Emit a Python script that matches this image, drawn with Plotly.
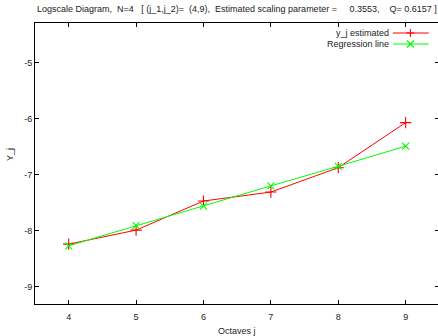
import plotly.graph_objects as go

octaves = [4, 5, 6, 7, 8, 9]
y_est = [-8.24, -7.99, -7.47, -7.31, -6.875, -6.07]
y_reg = [-8.27, -7.91, -7.56, -7.20, -6.85, -6.49]
x_ticks = [4, 5, 6, 7, 8, 9]
y_ticks = [-9, -8, -7, -6, -5]
y_tick_labels = ["-9", "-8", "-7", "-6", "-5"]

NB = "\u00a0"
title = ("Logscale Diagram," + NB*2 + "N=4" + NB*3 + "[ (j_1,j_2)=" + NB*2 + "(4,9)," + NB*2
         + "Estimated scaling parameter =" + NB*5 + "0.3553," + NB*4 + "Q= 0.6157 ]")

RED = "#ff0000"
GREEN = "#00ff00"
FONT = "Liberation Sans, Arial, sans-serif"

fig = go.Figure()
fig.add_trace(go.Scatter(x=octaves, y=y_est, mode="lines+markers", name="y_j estimated",
                         line=dict(color=RED, width=1),
                         marker=dict(symbol="cross-thin", size=8, line=dict(color=RED, width=1.1))))
fig.add_trace(go.Scatter(x=octaves, y=y_reg, mode="lines+markers", name="Regression line",
                         line=dict(color=GREEN, width=1),
                         marker=dict(symbol="x-thin", size=7, line=dict(color=GREEN, width=1.1))))
# invisible trace to host right-side mirrored ticks
fig.add_trace(go.Scatter(x=[octaves[0]], y=[y_est[0]], yaxis="y2", mode="markers",
                         marker=dict(opacity=0), hoverinfo="skip", showlegend=False))

W, H = 438, 336
L, R, T, B = 35, 0, 23, 32

fig.update_layout(
    width=W, height=H,
    margin=dict(l=L, r=R, t=T, b=B),
    paper_bgcolor="white", plot_bgcolor="white",
    showlegend=False,
    font=dict(family=FONT, size=9, color="#222"),
    xaxis=dict(range=[3.5, 9.48], tickvals=x_ticks, ticks="inside", ticklen=4,
               tickcolor="black", showline=True, linecolor="black", linewidth=1,
               mirror="ticks", showgrid=False, zeroline=False, ticklabelstandoff=4,
               tickfont=dict(size=9, color="#222")),
    yaxis=dict(range=[-9.31, -4.29], tickvals=y_ticks, ticktext=y_tick_labels,
               ticks="inside", ticklen=4, tickcolor="black", showline=True,
               linecolor="black", linewidth=1, mirror=False, showgrid=False,
               zeroline=False, tickfont=dict(size=9, color="#222")),
    yaxis2=dict(range=[-9.31, -4.29], overlaying="y", side="right", tickvals=y_ticks,
                ticks="inside", ticklen=3, tickcolor="black", showline=False,
                showticklabels=False, showgrid=False, zeroline=False),
    annotations=[
        dict(text=title, x=0.5, y=1, xref="paper", yref="paper", yshift=14,
             xanchor="center", yanchor="middle", showarrow=False,
             font=dict(size=9, color="#222")),
        dict(text="Octaves j", x=0.5, y=0, xref="paper", yref="paper", yshift=-26.5,
             xanchor="center", yanchor="middle", showarrow=False,
             font=dict(size=9, color="#222")),
        dict(text="Y_j", x=0, y=0.53, xref="paper", yref="paper", xshift=-25,
             xanchor="center", yanchor="middle", showarrow=False, textangle=-90,
             font=dict(size=9, color="#222")),
        dict(text="y_j estimated", x=0.883, y=0.9644, xref="paper", yref="paper",
             xanchor="right", yanchor="middle", showarrow=False,
             font=dict(size=9, color="#222")),
        dict(text="Regression line", x=0.883, y=0.9253, xref="paper", yref="paper",
             xanchor="right", yanchor="middle", showarrow=False,
             font=dict(size=9, color="#222")),
    ],
)

# legend samples (gnuplot style: text then sample)
x0s, x1s, xc = 0.888, 0.977, 0.9315
for yy, col, kind in [(0.9644, RED, "plus"), (0.9253, GREEN, "x")]:
    fig.add_shape(type="line", xref="paper", yref="paper", x0=x0s, x1=x1s, y0=yy, y1=yy,
                  line=dict(color=col, width=1))
    if kind == "plus":
        segs = [(-4, 0, 4, 0), (0, -4, 0, 4)]
    else:
        segs = [(-3.5, -3.5, 3.5, 3.5), (-3.5, 3.5, 3.5, -3.5)]
    for a, b, c, d in segs:
        fig.add_shape(type="line", xref="paper", yref="paper",
                      xsizemode="pixel", ysizemode="pixel", xanchor=xc, yanchor=yy,
                      x0=a, x1=c, y0=b, y1=d, line=dict(color=col, width=1.1))

fig.write_html("out.html")
